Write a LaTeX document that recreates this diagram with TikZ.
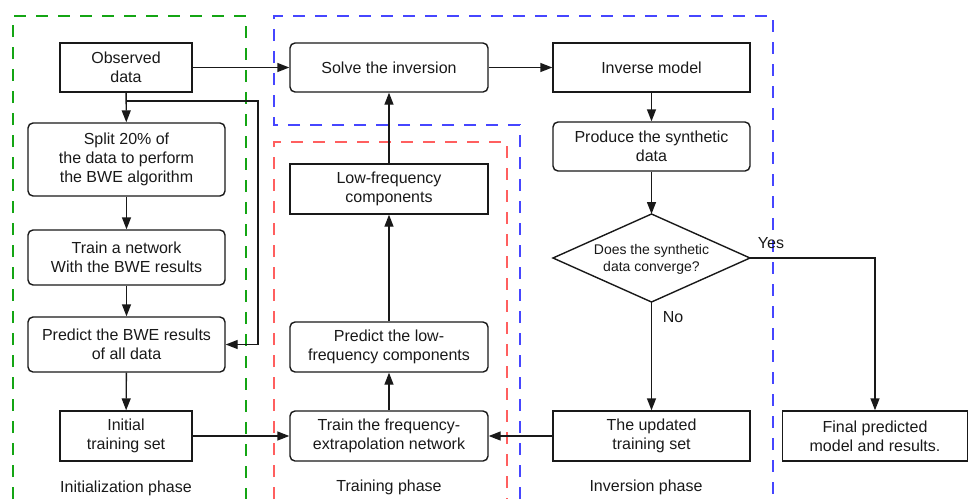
\documentclass[tikz,border=0pt]{standalone}
\usepackage{fontspec}
\setmainfont{Liberation Sans}
\usetikzlibrary{arrows.meta}
\definecolor{gcol}{RGB}{20,165,20}
\definecolor{bcol}{RGB}{70,70,255}
\definecolor{rcol}{RGB}{255,95,95}
\definecolor{ink}{RGB}{25,25,25}
\tikzset{
  base/.style={draw=ink, line width=1.4pt, inner sep=0pt, align=center, text=ink, font=\fontsize{16}{19}\selectfont},
  sq/.style={base},
  rd/.style={base, rounded corners=5pt},
  arr/.style={draw=ink, line width=1.4pt, -{Triangle[length=12pt,width=9pt]}},
  ln/.style={draw=ink, line width=1.4pt},
  frame/.style={line width=1.4pt, dash pattern=on 12pt off 10pt},
  lbl/.style={font=\fontsize{16}{19}\selectfont, inner sep=0pt, text=ink}
}
\begin{document}
\begin{tikzpicture}[x=1pt,y=-1pt]
\useasboundingbox (0,0) rectangle (969,499);
% phase frames
\draw[frame, gcol] (13,499) -- (13,16) -- (246,16) -- (246,499);
\draw[frame, bcol] (520,499) -- (520,125) -- (274,125) -- (274,16) -- (773,16) -- (773,499);
\draw[frame, rcol] (274,499) -- (274,142) -- (507,142) -- (507,499);
% initialization
\node[sq, minimum width=132pt, minimum height=49pt] (obs) at (126,67.5) {Observed\\data};
\node[rd, minimum width=197pt, minimum height=73pt] (split) at (126.5,159.5) {Split 20\% of\\the data to perform\\the BWE algorithm};
\node[rd, minimum width=197pt, minimum height=55pt] (trainnet) at (126.5,257.5) {Train a network\\With the BWE results};
\node[rd, minimum width=197pt, minimum height=55pt] (predbwe) at (126.5,344.5) {Predict the BWE results\\of all data};
\node[sq, minimum width=132pt, minimum height=50pt] (init) at (126,436) {Initial\\training set};
\node[lbl] (l1) at (126,488) {Initialization phase};
% training
\node[rd, minimum width=198pt, minimum height=49pt] (solve) at (389,67.5) {Solve the inversion};
\node[sq, minimum width=198pt, minimum height=50pt] (lowf) at (389,189) {Low-frequency\\components};
\node[rd, minimum width=198pt, minimum height=50pt] (predlow) at (389,347) {Predict the low-\\frequency components};
\node[rd, minimum width=198pt, minimum height=50pt] (trainfreq) at (389,436) {Train the frequency-\\extrapolation network};
\node[lbl] (l2) at (389,487) {Training phase};
% inversion
\node[sq, minimum width=197pt, minimum height=49pt] (inv) at (651.5,67.5) {Inverse model};
\node[rd, minimum width=197pt, minimum height=49pt] (prod) at (651.5,146.5) {Produce the synthetic\\data};
\coordinate (dtop) at (651.5,214);
\coordinate (dleft) at (553,258);
\coordinate (dright) at (750,258);
\coordinate (dbot) at (651.5,302);
\draw[ln, line join=miter] (dtop) -- (dright) -- (dbot) -- (dleft) -- cycle;
\node[align=center, inner sep=0pt, text=ink, font=\fontsize{14}{17}\selectfont] (diam) at (651.5,259) {Does the synthetic\\data converge?};
\node[sq, minimum width=197pt, minimum height=50pt] (upd) at (651.5,436) {The updated\\training set};
\node[sq, minimum width=185pt, minimum height=50pt] (final) at (875,436) {Final predicted\\model and results.};
\node[lbl] (l3) at (646,487) {Inversion phase};
\node[lbl] (yes) at (771,243) {Yes};
\node[lbl] (no) at (673,317) {No};
% connectors
\coordinate (jn) at (126,101);
\coordinate (rt) at (258,101);
\draw[arr] (obs.east) -- (solve.west);
\draw[arr] (obs) -- (split);
\draw[arr] (jn) -- (rt) |- (predbwe.east);
\draw[arr] (split) -- (trainnet);
\draw[arr] (trainnet) -- (predbwe);
\draw[arr] (predbwe) -- (init);
\draw[arr] (init.east) -- (trainfreq.west);
\draw[arr] (trainfreq) -- (predlow);
\draw[arr] (predlow) -- (lowf);
\draw[arr] (lowf) -- (solve);
\draw[arr] (solve.east) -- (inv.west);
\draw[arr] (inv) -- (prod);
\draw[arr] (prod.south) -- (dtop);
\draw[arr] (dbot) -- (upd.north);
\draw[arr] (dright) -| (final.north);
\draw[arr] (upd.west) -- (trainfreq.east);
\end{tikzpicture}
\end{document}
